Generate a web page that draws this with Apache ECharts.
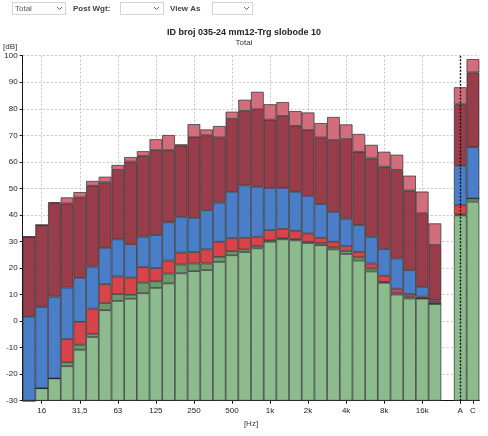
<!DOCTYPE html>
<html>
<head>
<meta charset="utf-8">
<script src="https://cdn.jsdelivr.net/npm/echarts@6/dist/echarts.min.js"></script>
<style>
html,body{margin:0;padding:0;background:#fff;}
#c{width:488px;height:436px;}
</style>
</head>
<body>
<div id="c"></div>
<script>
// 1/3-octave bands, a gap, then A and C totals
const categories = ['12,5','16','20','25','31,5','40','50','63','80','100','125','160','200','250','315','400','500','630','800','1k','1,25k','1,6k','2k','2,5k','3,15k','4k','5k','6,3k','8k','10k','12,5k','16k','20k','','A','C'];
const tickLabels = ['16','31,5','63','125','250','500','1k','2k','4k','8k','16k','A','C'];
const gridLabels = ['16','31,5','63','125','250','500','1k','2k','4k','8k','16k'];
const yTicks = [-30,-20,-10,0,10,20,30,40,50,60,70,80,90,100];

// top level (dB) of each coloured layer, bottom to top
const greenTop     = [-30,-25.3,-21.6,-17,-10.8,-6,4.1,7.6,8.4,10.5,12.5,14.2,18.0,18.8,19.2,22.3,24.8,26.0,27.4,29.9,30.8,30.4,29.4,28.6,27.0,25.3,22.8,18.7,14.4,10.0,8.5,8.5,6.5,null,39.8,45.0];
const darkGreenTop = [-30,-25.3,-21.6,-15.5,-8.9,-4.8,6.8,10.2,9.9,14.5,15.0,17.9,21.3,21.7,21.7,24.2,26.3,27.0,28.3,30.5,31.2,30.9,29.9,29.3,27.8,26.4,24.0,19.8,14.8,10.7,9.2,8.5,6.5,null,40.2,46.2];
const redTop       = [-30,-25.3,-21.6,-6.8,-0.3,4.7,13.9,16.8,16.4,20.3,20.0,22.8,25.8,26.0,27.0,29.9,31.2,31.4,31.8,34.3,34.7,34.0,33.0,31.4,29.9,28.3,26.1,21.7,17.1,12.2,10.2,9.2,7.2,null,43.7,46.2];
const blueTop      = [1.6,5.4,9.2,12.6,16.3,20.5,27.6,30.8,29.0,31.8,32.4,37.2,39.3,38.9,41.8,44.6,48.7,51.1,50.6,50.2,50.2,48.7,47.2,44.1,41.2,38.6,36.2,31.7,27.1,23.6,19.2,12.9,7.8,null,58.5,65.5];
const darkRedTop   = [31.8,36.2,44.4,44.3,46.6,51.0,52.3,57.0,60.1,62.2,64.4,64.4,66.0,69.3,70.0,69.2,76.2,79.2,79.8,75.9,77.3,73.6,72.0,69.2,68.2,68.6,63.8,61.3,58.2,57.0,49.2,40.6,28.7,null,81.7,93.7];
const pinkTop      = [31.8,36.2,44.8,46.6,48.6,52.8,54.4,58.8,61.8,64.0,68.5,70.1,66.6,74.2,72.2,73.5,78.9,83.4,86.4,81.7,82.5,79.1,78.6,74.6,76.9,74.1,70.5,66.4,63.8,62.7,54.8,48.8,36.8,null,88.1,98.7];

const layers = [
  {name:'g',  top: greenTop,     color:'#8cbb8e'},
  {name:'dg', top: darkGreenTop, color:'#6d9a6b'},
  {name:'r',  top: redTop,       color:'#d8444a'},
  {name:'b',  top: blueTop,      color:'#4a7ec9'},
  {name:'dr', top: darkRedTop,   color:'#9a3d4a'},
  {name:'p',  top: pinkTop,      color:'#d26e7b'}
];

const Y_MIN = -30;
const FONT = 'Liberation Sans';

const series = [];
// invisible base so the stack starts at the axis minimum
series.push({
  type:'bar', stack:'s', stackStrategy:'all', silent:true,
  barCategoryGap:'0%',
  itemStyle:{color:'rgba(0,0,0,0)', borderWidth:0},
  data: categories.map((c,i)=> greenTop[i]==null ? null : Y_MIN)
});
layers.forEach((L,k)=>{
  const data = L.top.map((v,i)=>{
    if (v==null) return null;
    const prev = k===0 ? Y_MIN : layers[k-1].top[i];
    return +(v - prev).toFixed(2);
  });
  const s = {
    type:'bar', stack:'s', stackStrategy:'all', silent:true,
    barCategoryGap:'0%',
    itemStyle:{color:L.color, borderColor:'#2b2b2b', borderWidth:0.7},
    data
  };
  if (k===layers.length-1) {
    s.markLine = {
      silent:true, symbol:'none', label:{show:false},
      lineStyle:{color:'#111', type:[2,1.5], width:1.4},
      data:[{xAxis:'A'}]
    };
  }
  series.push(s);
});

const chart = echarts.init(document.getElementById('c'), null, {renderer:'canvas'});
chart.setOption({
  animation:false,
  backgroundColor:'#ffffff',
  textStyle:{fontFamily:FONT},
  title:{
    text:'ID broj 035-24 mm12-Trg slobode 10',
    subtext:'Total',
    left:'center', top:23, itemGap:2,
    textStyle:{fontFamily:FONT, fontSize:9, fontWeight:'bold', color:'#222'},
    subtextStyle:{fontFamily:FONT, fontSize:8, color:'#333'}
  },
  grid:{left:22.7, right:8.7, top:55.7, bottom:35.3, containLabel:false},
  xAxis:{
    type:'category', data:categories, boundaryGap:true,
    name:'[Hz]', nameLocation:'middle', nameGap:18,
    nameTextStyle:{fontFamily:FONT, fontSize:8, color:'#333'},
    axisLine:{onZero:false, lineStyle:{color:'#111', width:1}},
    axisTick:{show:true, alignWithLabel:true, length:3, lineStyle:{color:'#111'},
      interval:(i,v)=> tickLabels.indexOf(v)>=0},
    axisLabel:{fontFamily:FONT, fontSize:8, color:'#222', margin:6,
      interval:(i,v)=> tickLabels.indexOf(v)>=0},
    splitLine:{show:true, alignWithLabel:true,
      interval:(i,v)=> gridLabels.indexOf(v)>=0,
      lineStyle:{color:'#c4c4c4', type:[2,2], width:1}}
  },
  yAxis:{
    type:'value', min:yTicks[0], max:yTicks[yTicks.length-1], interval:10,
    axisLine:{show:true, onZero:false, lineStyle:{color:'#111', width:1}},
    axisTick:{show:true, length:3, lineStyle:{color:'#111'}},
    axisLabel:{fontFamily:FONT, fontSize:8, color:'#222', margin:5},
    splitLine:{show:true, lineStyle:{color:'#c4c4c4', type:[2,2], width:1}}
  },
  graphic:[
    {type:'text', left:3, top:43, style:{text:'[dB]', fontFamily:FONT, fontSize:8, fill:'#333'}},
    {type:'rect', shape:{x:12.5, y:2.5, width:53, height:12}, style:{fill:'#fff', stroke:'#a8a8a8', lineWidth:1, lineDash:[1,1]}},
    {type:'text', x:15, y:8.5, style:{text:'Total', fontFamily:FONT, fontSize:8, fill:'#555', verticalAlign:'middle'}},
    {type:'polyline', shape:{points:[[57,7],[59.5,9.5],[62,7]]}, style:{stroke:'#666', lineWidth:1, fill:null}},
    {type:'text', x:73, y:8.5, style:{text:'Post Wgt:', fontFamily:FONT, fontSize:8, fontWeight:'bold', fill:'#444', verticalAlign:'middle'}},
    {type:'rect', shape:{x:120.5, y:2.5, width:43, height:12}, style:{fill:'#fff', stroke:'#a8a8a8', lineWidth:1, lineDash:[1,1]}},
    {type:'polyline', shape:{points:[[154,7],[156.5,9.5],[159,7]]}, style:{stroke:'#666', lineWidth:1, fill:null}},
    {type:'text', x:170, y:8.5, style:{text:'View As', fontFamily:FONT, fontSize:8, fontWeight:'bold', fill:'#444', verticalAlign:'middle'}},
    {type:'rect', shape:{x:212.5, y:2.5, width:40, height:12}, style:{fill:'#fff', stroke:'#a8a8a8', lineWidth:1, lineDash:[1,1]}},
    {type:'polyline', shape:{points:[[244,7],[246.5,9.5],[249,7]]}, style:{stroke:'#666', lineWidth:1, fill:null}}
  ],
  series
});
</script>
</body>
</html>
